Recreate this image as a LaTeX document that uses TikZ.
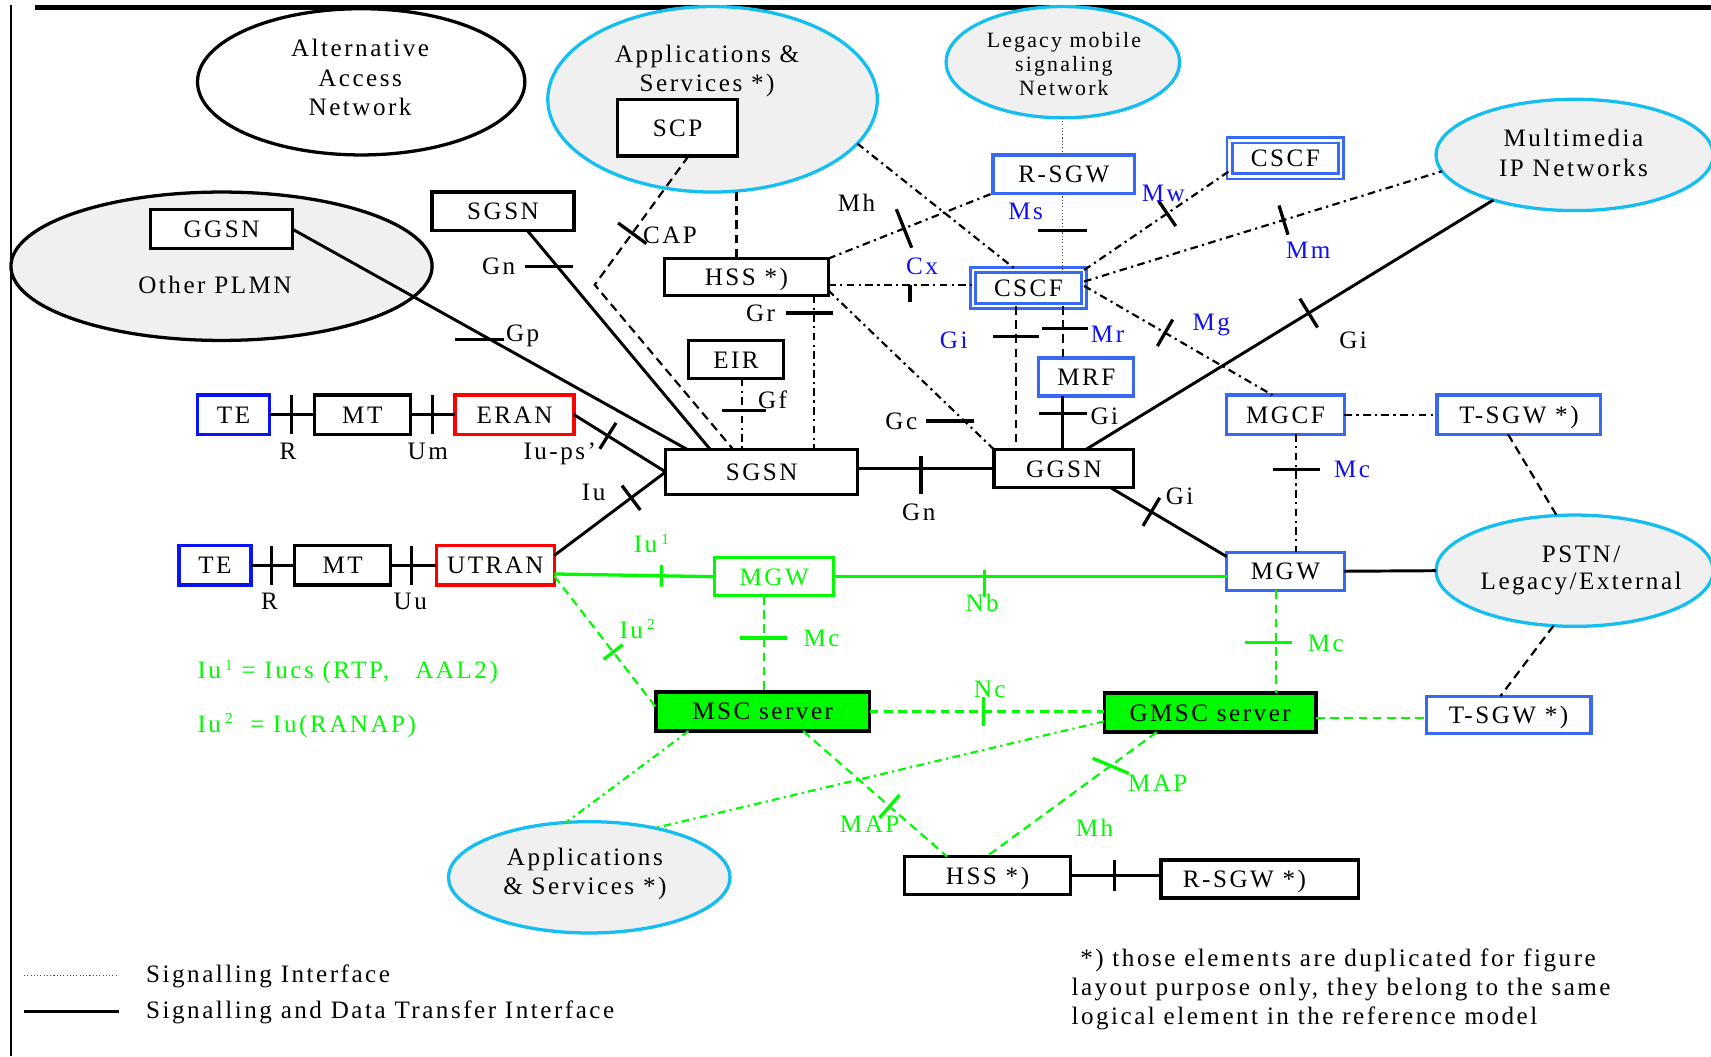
\documentclass[tikz,border=0pt]{standalone}
\usepackage{fontspec}
\setmainfont{Liberation Serif}[LetterSpace=10]
\usetikzlibrary{shapes.geometric,calc}
\definecolor{cyanE}{RGB}{20,190,240}
\definecolor{grayF}{RGB}{240,240,240}
\definecolor{boxBlue}{RGB}{55,105,245}
\definecolor{teBlue}{RGB}{10,20,240}
\definecolor{lblue}{RGB}{15,15,240}
\definecolor{grn}{RGB}{0,250,0}
\definecolor{redc}{RGB}{255,0,0}
\newcommand\myexp[1]{\,\raisebox{8pt}{\fontsize{14}{14}\selectfont #1}}
\tikzset{
  every node/.style={font=\fontsize{23}{27}\selectfont, inner sep=0pt, outer sep=0pt},
  sz/.style 2 args={minimum width=#1pt, minimum height=#2pt},
  box/.style={draw=black, line width=3pt, rectangle, fill=white, text height=15.5pt, text depth=0pt},
  bbox/.style={box, draw=boxBlue},
  dbox/.style={box, draw=boxBlue, line width=2.4pt, double=white, double distance=2.4pt},
  ell/.style={ellipse, draw=black, line width=3pt},
  etxt/.style={align=center},
  lab/.style={text height=15.5pt, text depth=0pt},
  sline/.style={draw=black, line width=2.7pt},
  dline/.style={draw=black, line width=2pt, dash pattern=on 8pt off 5pt},
  ddline/.style={draw=black, line width=2pt, dash pattern=on 7pt off 4pt on 2pt off 4pt},
  dotline/.style={draw=black!70, line width=1pt, dash pattern=on 1pt off 2pt},
  gline/.style={draw=grn, line width=3pt},
  gdash/.style={draw=grn, line width=2pt, dash pattern=on 8pt off 5pt},
  gdd/.style={draw=grn, line width=2pt, dash pattern=on 7pt off 4pt on 2pt off 4pt},
  tk/.style={fill=black, minimum width=3pt, minimum height=#1pt, sloped},
  tk/.default=30,
  htk/.style={fill=black, minimum height=3pt, minimum width=#1pt},
  gtk/.style={tk=#1, fill=grn},
  ghtk/.style={htk=#1, fill=grn},
}
\begin{document}
\begin{tikzpicture}[x=1pt,y=-1pt]
\useasboundingbox (0,0) rectangle (1568,968);
% frame
\draw[line width=5pt] (32,7) -- (1568,7);
\draw[line width=2.5pt] (10,5) -- (10,968);

% ellipses
\node[ell, fill=white, sz={300}{134}] (alt) at (331,75) {};
\node[ell, draw=cyanE, fill=grayF, sz={302}{170}] (appsT) at (653,91) {};
\node[ell, draw=cyanE, fill=grayF, sz={214}{102}] (legacy) at (974,57) {};
\node[ell, fill=grayF, sz={386}{136}] (other) at (203,244) {};
\node[ell, draw=cyanE, fill=grayF, sz={254}{102}] (multi) at (1443,142) {};
\node[ell, draw=cyanE, fill=grayF, sz={254}{102}] (pstn) at (1443,523) {};
\node[ell, draw=cyanE, fill=grayF, sz={258}{102}] (appsB) at (540,804) {};

\node[etxt] (altT) at (330,71) {Alternative\\Access\\Network};
\node[etxt] (appsTT) at (648,65) {Applications \&\\Services *)};
\node[etxt, font=\fontsize{20}{22}\selectfont] (legacyT) at (975,59) {Legacy mobile\\signaling\\Network};
\node[lab] (otherT) at (197,261) {Other PLMN};
\node[etxt] (multiT) at (1442,140) {Multimedia\\IP Networks};
\node[etxt, font=\fontsize{23}{25}\selectfont] (pstnT) at (1449,523) {PSTN/\\Legacy/External};
\node[etxt] (appsBT) at (536,801) {Applications\\\& Services *)};

% boxes
\node[box, sz={110}{52}] (scp) at (621,117) {SCP};
\node[box, sz={130}{36}] (ggsnO) at (203,210) {GGSN};
\node[box, sz={130}{35}] (sgsnT) at (461,193.5) {SGSN};
\node[box, sz={150}{34}] (hss) at (684,254) {HSS *)};
\node[box, sz={87}{35}] (eir) at (674.5,329.5) {EIR};
\node[box, sz={176}{41}] (sgsn) at (698,432.5) {SGSN};
\node[box, sz={128}{35}] (ggsn) at (975,429.5) {GGSN};
\node[box, draw=teBlue, sz={66}{36}] (te1) at (214,380) {TE};
\node[box, sz={88}{36}] (mt1) at (332,380) {MT};
\node[box, draw=redc, sz={109}{36}] (eran) at (471.5,380) {ERAN};
\node[box, draw=teBlue, sz={66}{36}] (te2) at (197,518) {TE};
\node[box, sz={88}{36}] (mt2) at (314,518) {MT};
\node[box, draw=redc, sz={108}{36}] (utran) at (454,518) {UTRAN};
\node[box, draw=grn, text=grn, sz={109}{35}] (mgwG) at (709.5,528.5) {MGW};
\node[box, fill=grn, line width=3.2pt, sz={196}{36}] (msc) at (699,652) {MSC server};
\node[box, fill=grn, line width=3.2pt, sz={194}{36}] (gmsc) at (1109,653) {GMSC server};
\node[bbox, sz={151}{34}] (tsgwB) at (1382.5,655) {T-SGW *)};
\node[box, sz={152}{35}] (hssB) at (905,802.5) {HSS *)};
\node[box, sz={181}{35}] (rsgwB) at (1154.5,805.5) {R-SGW *)\hspace*{28pt}};
\node[bbox, sz={130}{35}] (rsgw) at (975,159.5) {R-SGW};
\node[dbox, sz={102}{33}] (cscfT) at (1178,145) {CSCF};
\node[dbox, sz={102}{33}] (cscf) at (942.5,264) {CSCF};
\node[bbox, sz={87}{35}] (mrf) at (995.5,345.5) {MRF};
\node[bbox, sz={108}{36}] (mgcf) at (1178,380) {MGCF};
\node[bbox, sz={150}{36}] (tsgwT) at (1392,380) {T-SGW *)};
\node[bbox, sz={108}{35}] (mgwR) at (1178,523.5) {MGW};

% helper coordinates
\coordinate (xr) at (974,0);
\coordinate (hssx) at ($(hss.north)+(-9,0)$);
\coordinate (capC) at (545,261);
\coordinate (eirx) at ([xshift=5.5pt]eir.south);
\coordinate (hssr) at ([xshift=-13pt]hss.south east);
\coordinate (hssC) at ([yshift=-7pt]hss.east);
\coordinate (hssG) at ([yshift=-12pt]hss.east);
\coordinate (cscfx) at ([xshift=-11.5pt]cscf.south);
\coordinate (mgcfx) at ([xshift=10pt]mgcf.south);
\coordinate (mgwGx) at ([xshift=-9.5pt]mgwG.south);
\coordinate (mgwRx) at ([xshift=-9pt]mgwR.south);
\coordinate (gmscE) at ([yshift=-5pt]gmsc.east);

% black solid connectors
\draw[sline] (ggsnO.east) -- node[htk=45, pos=.5, xshift=-9.5pt] (tGp) {} ([xshift=20pt]sgsn.north west);
\draw[sline] ([xshift=22pt]sgsnT.south) -- node[htk=44, pos=.165, xshift=-8pt] (tGn1) {} ([xshift=41pt]sgsn.north west);
\draw[sline] (eran.east) -- node[tk=28, pos=.37] (tIups) {} (sgsn.west);
\draw[sline] ([yshift=9pt]utran.east) -- node[tk=28, pos=.69] (tIu) {} (sgsn.west);
\draw[sline] (te1) -- node[tk=36, pos=.49] (tR1) {} (mt1);
\draw[sline] (mt1) -- node[tk=36, pos=.49] (tUm) {} (eran);
\draw[sline] (te2) -- node[tk=36, pos=.475] (tR2) {} (mt2);
\draw[sline] (mt2) -- node[tk=36, pos=.46] (tUu) {} (utran);
\draw[sline] (sgsn.east |- ggsn.west) -- node[tk=35, pos=.464, yshift=-5.5pt] (tGn2) {} (ggsn.west);
\draw[sline] ([xshift=20pt]ggsn.north) -- node[tk=31, pos=.547] (tGi1) {} (multi.209);
\draw[sline] ([xshift=-21pt]ggsn.south east) -- node[tk=30, pos=.35] (tGi2) {} ([yshift=-4pt]mgwR.north west);
\draw[sline] (mrf.south -| xr) -- node[htk=44, pos=.33] (tGi3) {} (ggsn.north -| xr);
\draw[sline] (mgwR.east) -- (pstn.west);
\draw[sline] (hssB.east) -- node[tk=28, pos=.49] (tHR) {} (rsgwB.west |- hssB.east);

% black dashed / dash-dot / dotted
\draw[dline] (appsT.south -| hssx) -- (hssx);
\draw[dline] ([xshift=10pt]scp.south) -- node[tk=32, pos=.6] (tCAP) {} (capC) -- ([xshift=62pt]sgsn.north west);
\draw[ddline] (eirx) -- node[htk=40, pos=.45, xshift=2pt] (tGf) {} (sgsn.north -| eirx);
\draw[ddline] (hssr) -- node[htk=43, pos=.113, xshift=-4.5pt] (tGr) {} (sgsn.north -| hssr);
\draw[ddline] (hssC) -- node[tk=16, anchor=north, pos=.566] (tCx) {} (cscf.west |- hssC);
\draw[ddline] (hssG) -- node[htk=44, pos=.82, xshift=-13pt] (tGc) {} (ggsn.north west);
\draw[ddline] (hss.north east) -- node[tk=38, pos=.46] (tMh) {} (rsgw.south west);
\draw[ddline] (appsT.343) -- ([xshift=40pt]cscf.north west);
\draw[dotline] (legacy.south -| xr) -- (rsgw.north -| xr);
\draw[dotline] (rsgw.south -| xr) -- node[htk=45, pos=.49] (tMs) {} (cscf.north -| xr);
\draw[ddline] (cscf.north east) -- node[tk=28, pos=.57] (tMw) {} ([yshift=5pt]cscfT.south west);
\draw[ddline] ([yshift=6pt]cscf.east) -- node[tk=28, pos=.557] (tMm) {} (multi.187);
\draw[ddline] ([yshift=2pt]cscf.east) -- node[tk=28, pos=.43] (tMg) {} ([xshift=42pt]mgcf.north west);
\draw[dline] (cscfx) -- node[htk=42, pos=.21] (tGi4) {} (ggsn.north -| cscfx);
\draw[dline] (cscf.south -| xr) -- node[htk=43, pos=.43, xshift=2pt] (tMr) {} (mrf.north -| xr);
\draw[ddline] (mgcf) -- (tsgwT);
\draw[ddline] (mgcfx) -- node[htk=43, pos=.296] (tMc1) {} (mgwR.north -| mgcfx);
\draw[dline] ([xshift=-10pt]tsgwT.south) -- (pstn.108);
\draw[dline] (pstn.249) -- ([xshift=-7.5pt]tsgwB.north);

% green connectors
\draw[gline] ([yshift=-8pt]utran.east) -- node[gtk=20, pos=.667] (tIu1) {} (mgwG.west);
\draw[gline] (mgwG.east) -- node[gtk=25, pos=.383, yshift=-6pt] (tNb) {} (mgwR.west |- mgwG.east);
\draw[gdash] ([yshift=-10pt]utran.east) -- node[gtk=22, pos=.58] (tIu2) {} ([yshift=4pt]msc.west);
\draw[gdash] (mgwGx) -- node[ghtk=43, pos=.44] (tMc2) {} (msc.north -| mgwGx);
\draw[gdash] (mgwRx) -- node[ghtk=43, pos=.51, xshift=-6.5pt] (tMc3) {} (gmsc.north -| mgwRx);
\draw[gdash] (msc.east) -- node[gtk=26, pos=.484] (tNc) {} (gmsc.west |- msc.east);
\draw[gdash] (gmscE) -- (tsgwB.west |- gmscE);
\draw[gdd] ([xshift=30pt]msc.south west) -- (appsB.113);
\draw[gdd] ([yshift=-8pt]gmsc.west) -- (appsB.37);
\draw[gdash] ([xshift=37pt]msc.south) -- node[gtk=28, pos=.6] (tMAP1) {} ([xshift=-37pt]hssB.north);
\draw[gdash] ([xshift=-49pt]gmsc.south) -- node[ghtk=36, pos=.27, rotate=-23] (tMAP2) {} ([xshift=-1pt]hssB.north);

% labels
\node[lab] (lGp) at (479,305) {Gp};
\node[lab] (lGn1) at (457,244) {Gn};
\node[lab] (lCAP) at (614,215) {CAP};
\node[lab] (lMh) at (785,186) {Mh};
\node[lab] (lGr) at (697,287) {Gr};
\node[lab] (lGf) at (708,367) {Gf};
\node[lab] (lIups) at (513,413) {Iu-ps'};
\node[lab] (lIu) at (544,451) {Iu};
\node[lab] (lR1) at (264,413) {R};
\node[lab] (lUm) at (392,413) {Um};
\node[lab] (lR2) at (247,551) {R};
\node[lab] (lUu) at (376,551) {Uu};
\node[lab] (lGn2) at (842,469) {Gn};
\node[lab] (lGc) at (826,386) {Gc};
\node[lab, text=lblue] (lCx) at (845,244) {Cx};
\node[lab, text=lblue] (lMs) at (940,193) {Ms};
\node[lab, text=lblue] (lMw) at (1066,177) {Mw};
\node[lab, text=lblue] (lMm) at (1199,229) {Mm};
\node[lab, text=lblue] (lMg) at (1110,295) {Mg};
\node[lab, text=lblue] (lGi4) at (874,312) {Gi};
\node[lab, text=lblue] (lMr) at (1015,306) {Mr};
\node[lab] (lGi3) at (1012,381) {Gi};
\node[lab] (lGi1) at (1240,312) {Gi};
\node[lab] (lGi2) at (1081,455) {Gi};
\node[lab, text=lblue] (lMc1) at (1239,430) {Mc};
\node[lab, text=grn] (lIu1) at (597,499) {Iu\myexp{1}};
\node[lab, text=grn] (lNb) at (900,553) {Nb};
\node[lab, text=grn] (lIu2) at (584,577) {Iu\myexp{2}};
\node[lab, text=grn] (lMc2) at (753,585) {Mc};
\node[lab, text=grn] (lMc3) at (1215,589) {Mc};
\node[lab, text=grn] (lNc) at (907,631) {Nc};
\node[lab, text=grn] (lMAP1) at (797,755) {MAP};
\node[lab, text=grn] (lMAP2) at (1061,718) {MAP};
\node[lab, text=grn] (lMh2) at (1003,759) {Mh};

\node[anchor=base west, text=grn] (f1) at (181,622) {Iu\myexp{1}\ = Iucs (RTP,\ \ \ AAL2)};
\node[anchor=base west, text=grn] (f2) at (181,671) {Iu\myexp{2}\ \ = Iu(RANAP)};

% legend
\coordinate (lg1a) at (22,894); \coordinate (lg1b) at (109,894);
\draw[dotline, line width=1.2pt] (lg1a) -- (lg1b);
\coordinate (lg2a) at (22,927); \coordinate (lg2b) at (109,927);
\draw[line width=3pt] (lg2a) -- (lg2b);
\node[anchor=base west] (lgT1) at (134,900) {Signalling Interface};
\node[anchor=base west] (lgT2) at (134,933) {Signalling and Data Transfer Interface};

% note
\node[anchor=base west] (n1) at (990,886) {*) those elements are duplicated for figure};
\node[anchor=base west] (n2) at (982,912) {layout purpose only, they belong to the same};
\node[anchor=base west] (n3) at (982,939) {logical element in the reference model};
\end{tikzpicture}
\end{document}
